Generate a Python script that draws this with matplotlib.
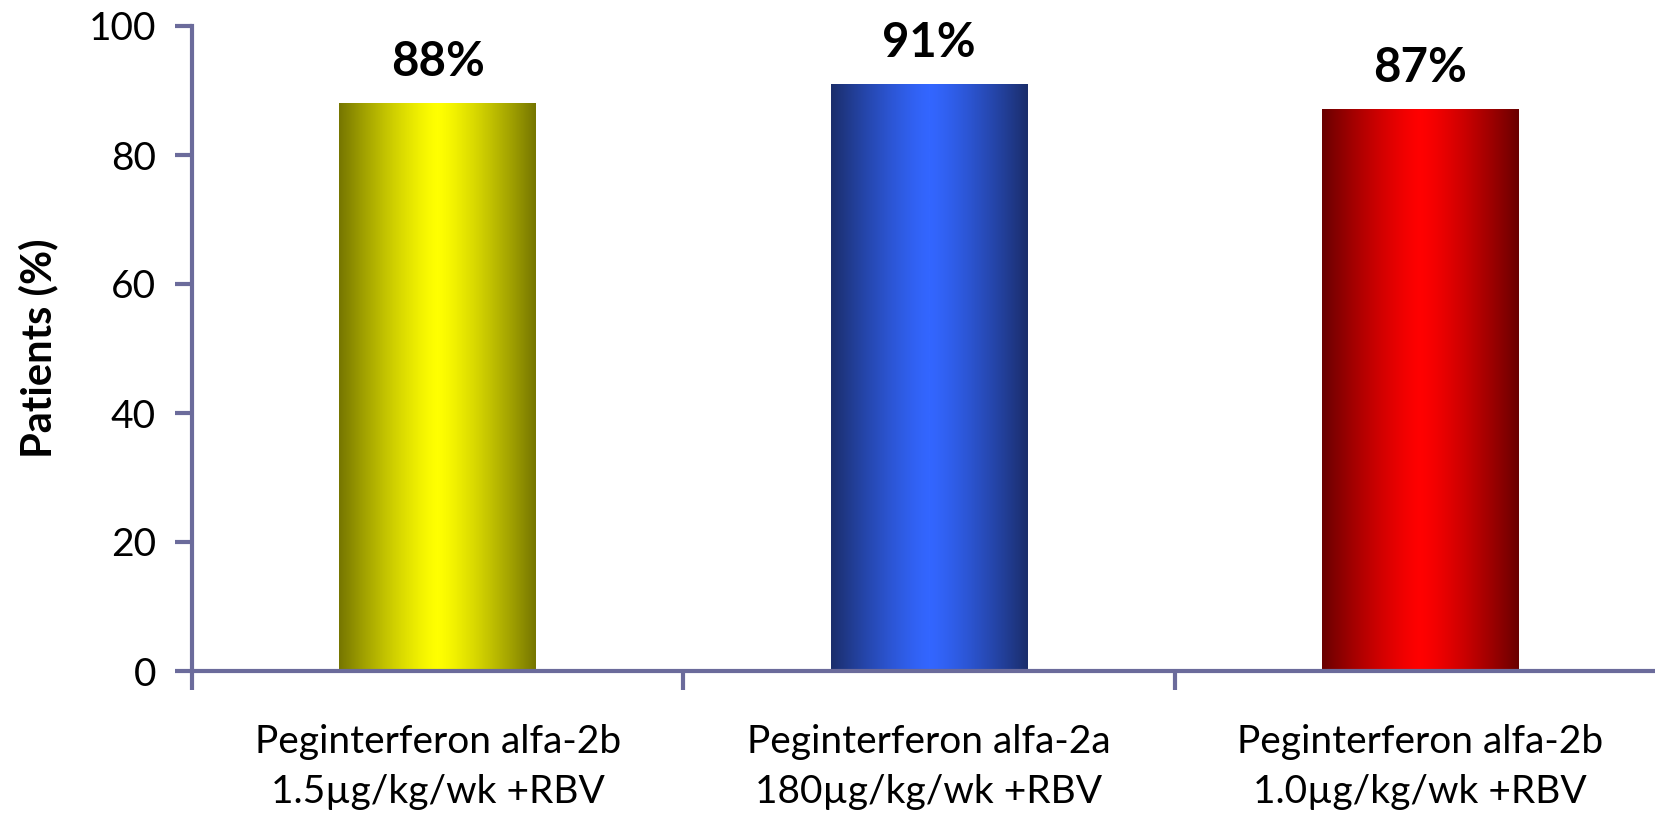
import numpy as np
import matplotlib
matplotlib.use("Agg")
import matplotlib.pyplot as plt
from matplotlib.colors import LinearSegmentedColormap

plt.rcParams['font.family'] = ['Lato', 'DejaVu Sans']

# data
categories = ["Peginterferon alfa-2b\n1.5\u00b5g/kg/wk +RBV",
              "Peginterferon alfa-2a\n180\u00b5g/kg/wk +RBV",
              "Peginterferon alfa-2b\n1.0\u00b5g/kg/wk +RBV"]
values = [88, 91, 87]
value_labels = ["88%", "91%", "87%"]
# (edge colour, centre colour) for each bar's shading
bar_shades = [("#767600", "#ffff00"),
              ("#1b2e6c", "#3366ff"),
              ("#6a0000", "#ff0000")]

axis_col = "#6b6b9b"

fig = plt.figure(figsize=(16.55, 8.19), dpi=100)
ax = fig.add_axes([192 / 1655, 148 / 819, 1474 / 1655, 645 / 819])

x = np.arange(len(categories))
bars = ax.bar(x, values, width=0.4, color="none", edgecolor="none")

# horizontal gradient, dark at the edges and bright in the middle
t = np.linspace(-1, 1, 256)
grad = (1 - np.abs(t) ** 1.3)[None, :]
for b, (edge, mid) in zip(bars, bar_shades):
    cmap = LinearSegmentedColormap.from_list("shade", [edge, mid])
    x0, w, h = b.get_x(), b.get_width(), b.get_height()
    ax.imshow(grad, cmap=cmap, aspect="auto", extent=[x0, x0 + w, 0, h],
              vmin=0, vmax=1, zorder=2, interpolation="bilinear")

for xi, v, lab in zip(x, values, value_labels):
    ax.annotate(lab, (xi, v), xytext=(0, 14), textcoords="offset points",
                ha="center", va="bottom", fontsize=34, fontweight="bold")

ax.set_xlim(-0.5, 2.5)
ax.set_ylim(0, 100)

ax.set_yticks(np.arange(0, 101, 20))
ax.set_xticks([-0.5, 0.5, 1.5, 2.5])
ax.set_xticklabels([])
ax.set_xticks(x, minor=True)
ax.set_xticklabels(categories, minor=True, fontsize=28, linespacing=1.5)

ax.tick_params(axis="y", which="major", length=12, width=3, color=axis_col,
               labelsize=28, pad=14)
ax.tick_params(axis="x", which="major", length=14, width=3, color=axis_col)
ax.tick_params(axis="x", which="minor", length=0, pad=38)

for side in ("top", "right"):
    ax.spines[side].set_visible(False)
for side in ("left", "bottom"):
    ax.spines[side].set_color(axis_col)
    ax.spines[side].set_linewidth(3)

ax.set_ylabel("Patients (%)", fontsize=30, fontweight="bold", labelpad=22)

fig.savefig("out.png", dpi=100)
